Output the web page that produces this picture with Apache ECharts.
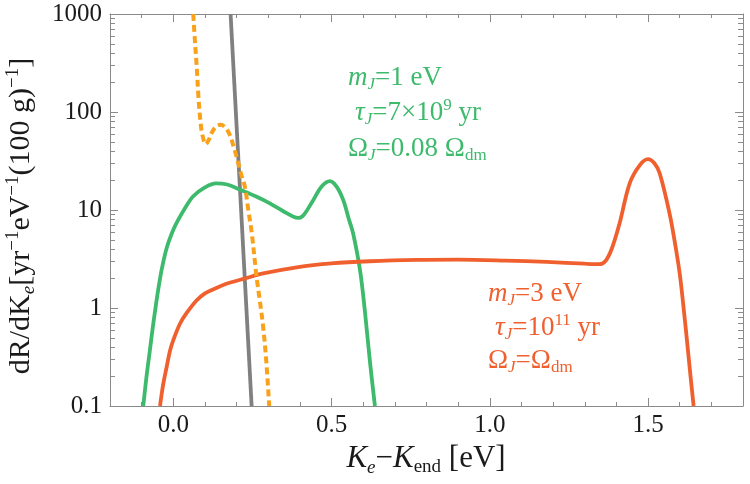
<!DOCTYPE html>
<html>
<head>
<meta charset="utf-8">
<script src="https://cdn.jsdelivr.net/npm/echarts@6/dist/echarts.min.js"></script>
<style>
  html, body { margin: 0; padding: 0; background: #fff; }
  #chart { width: 750px; height: 484px; }
</style>
</head>
<body>
<div id="chart"></div>
<script>
  // [K_e - K_end (eV), dR/dK_e]
  const grayCurve = [[0.181, 1000], [0.2475, 0.1]];
  const greenCurve = [
    [-0.095, 0.1], [-0.085, 0.195], [-0.075, 0.35], [-0.065, 0.63], [-0.055, 1.07],
    [-0.045, 1.74], [-0.035, 2.63], [-0.02, 4.2], [0.0, 6.3], [0.015, 7.9],
    [0.035, 10.2], [0.063, 13.8], [0.1, 17], [0.135, 18.7], [0.17, 18.2],
    [0.21, 16.2], [0.26, 13.8], [0.305, 11.7], [0.35, 9.6], [0.378, 8.6],
    [0.395, 8.3], [0.412, 8.9], [0.442, 12.6], [0.468, 17.3], [0.495, 19.7],
    [0.516, 17.3], [0.537, 12.6], [0.555, 8], [0.568, 5.8], [0.59, 2.43],
    [0.605, 0.95], [0.621, 0.29], [0.637, 0.1]
  ];
  const redCurve = [
    [-0.042, 0.1], [-0.032, 0.166], [-0.021, 0.25], [-0.01, 0.37], [0.0, 0.47],
    [0.021, 0.69], [0.04, 0.87], [0.074, 1.2], [0.1, 1.41], [0.12, 1.52],
    [0.15, 1.68], [0.18, 1.82], [0.226, 2.0], [0.28, 2.24], [0.39, 2.6],
    [0.5, 2.85], [0.62, 3.0], [0.77, 3.1], [0.9, 3.12], [1.05, 3.05],
    [1.18, 2.95], [1.3, 2.83], [1.345, 2.8], [1.365, 3.0], [1.385, 4.0],
    [1.41, 7.3], [1.442, 18.7], [1.474, 28.7], [1.5, 33], [1.52, 30],
    [1.537, 23.6], [1.568, 9.2], [1.585, 4.6], [1.6, 2.25], [1.611, 1.1],
    [1.622, 0.5], [1.633, 0.22], [1.644, 0.1]
  ];
  const dottedCurve = [
    [0.063, 1000], [0.068, 550], [0.074, 290], [0.079, 150], [0.085, 85],
    [0.092, 58], [0.103, 47], [0.112, 52], [0.121, 61], [0.135, 71],
    [0.15, 74], [0.165, 69], [0.179, 58], [0.19, 45], [0.2, 35],
    [0.213, 24], [0.226, 17.3], [0.237, 10], [0.248, 5.8], [0.263, 2.08],
    [0.274, 1.15], [0.284, 0.64], [0.294, 0.28], [0.303, 0.1]
  ];

  const yDecades = [0.1, 1, 10, 100];
  const yMinorMults = [2, 3, 4, 5, 6, 7, 8, 9];

  const serif = "'Liberation Serif', 'Times New Roman', serif";
  const frameColor = '#8a8a8a';
  const textColor = '#1a1a1a';
  const green = '#3dba6c';
  const red = '#f0602e';
  const orange = '#f9a11b';
  const gray = '#808080';

  function rich(color, size) {
    const small = Math.round(size * 0.62);
    const lh = Math.round(size * 1.15);
    return {
      n: { fontFamily: serif, fontSize: size, fill: color, lineHeight: lh },
      i: { fontFamily: serif, fontSize: size, fontStyle: 'italic', fill: color, lineHeight: lh },
      sub: { fontFamily: serif, fontSize: small, fill: color, lineHeight: lh, verticalAlign: 'bottom' },
      subi: { fontFamily: serif, fontSize: small, fontStyle: 'italic', fill: color, lineHeight: lh, verticalAlign: 'bottom' },
      sup: { fontFamily: serif, fontSize: small, fill: color, lineHeight: lh, verticalAlign: 'top' }
    };
  }

  function note(x, y, text, color) {
    return {
      type: 'text', x: x, y: y, silent: true,
      style: { text: text, fill: color, rich: rich(color, 27), align: 'left', verticalAlign: 'middle' }
    };
  }

  let chart = echarts.init(document.getElementById('chart'));

  const xAxisBase = {
    type: 'value', min: -0.2, max: 1.8, splitNumber: 4,
    axisLine: { show: true, onZero: false, lineStyle: { color: frameColor, width: 1 } },
    axisTick: { show: true, inside: true, length: 8, lineStyle: { color: frameColor } },
    minorTick: { show: true, splitNumber: 5, length: 4, lineStyle: { color: frameColor } },
    splitLine: { show: false }
  };
  const yAxisBase = {
    type: 'log', logBase: 10, min: 0.1, max: 1000,
    axisLine: { show: true, onZero: false, lineStyle: { color: frameColor, width: 1 } },
    axisTick: { show: true, inside: true, length: 8, lineStyle: { color: frameColor } },
    splitLine: { show: false }
  };

  let option = {
    animation: false,
    backgroundColor: '#fff',
    textStyle: { fontFamily: serif },
    grid: { left: 110, right: 7, top: 14, bottom: 78 },
    xAxis: [
      Object.assign({}, xAxisBase, {
        position: 'bottom',
        axisLabel: {
          margin: 7, fontFamily: serif, fontSize: 25, color: textColor,
          showMinLabel: false, showMaxLabel: false,
          formatter: v => v.toFixed(1)
        }
      }),
      Object.assign({}, xAxisBase, { position: 'top', axisLabel: { show: false } })
    ],
    yAxis: [
      Object.assign({}, yAxisBase, {
        position: 'left',
        axisLabel: {
          margin: 8, fontFamily: serif, fontSize: 25, color: textColor,
          formatter: v => (v < 1 ? v.toFixed(1) : v.toFixed(0))
        }
      }),
      Object.assign({}, yAxisBase, { position: 'right', axisLabel: { show: false } })
    ],
    graphic: [
      note(348, 78, '{i|m}{subi|J}{n|=1 eV}', green),
      note(355, 113, '{i|τ}{subi|J}{n|=7×10}{sup|9}{n| yr}', green),
      note(348, 149, '{n|Ω}{subi|J}{n|=0.08 Ω}{sub|dm}', green),
      note(488, 294, '{i|m}{subi|J}{n|=3 eV}', red),
      note(495, 328, '{i|τ}{subi|J}{n|=10}{sup|11}{n| yr}', red),
      note(488, 361, '{n|Ω}{subi|J}{n|=Ω}{sub|dm}', red),
      {
        type: 'text', x: 426, y: 459, silent: true,
        style: {
          text: '{i|K}{subi|e}{n|−}{i|K}{sub|end}{n| [eV]}', fill: textColor,
          rich: rich(textColor, 31), align: 'center', verticalAlign: 'middle'
        }
      },
      {
        type: 'text', x: 21, y: 216, rotation: Math.PI / 2, silent: true,
        style: {
          text: '{n|dR/dK}{subi|e}{n|[yr}{sup|−1}{n|eV}{sup|−1}{n|(100 g)}{sup|−1}{n|]}',
          fill: textColor, rich: rich(textColor, 30), align: 'center', verticalAlign: 'middle'
        }
      }
    ],
    series: [
      {
        name: 'gray', type: 'line', data: grayCurve, showSymbol: false,
        lineStyle: { color: gray, width: 3.8 }, z: 2
      },
      {
        name: 'mJ=1eV', type: 'line', data: greenCurve, showSymbol: false, smooth: 0.35,
        lineStyle: { color: green, width: 3.8 }, z: 3
      },
      {
        name: 'mJ=3eV', type: 'line', data: redCurve, showSymbol: false, smooth: 0.35,
        lineStyle: { color: red, width: 3.8 }, z: 4
      },
      {
        name: 'dotted', type: 'line', data: dottedCurve, showSymbol: false, smooth: 0.35,
        lineStyle: { color: orange, width: 4, type: [7, 4] }, z: 5
      },
      {
        // log-axis minor ticks on left and right frame
        type: 'custom', silent: true, clip: false, z: 10,
        data: [[0, 1]],
        renderItem: function (params, api) {
          const cs = params.coordSys;
          const kids = [];
          yDecades.forEach(d => yMinorMults.forEach(m => {
            const y = Math.round(api.coord([0, d * m])[1]) + 0.5;
            kids.push({ type: 'line', shape: { x1: cs.x, y1: y, x2: cs.x + 5, y2: y },
              style: { stroke: frameColor, lineWidth: 1 } });
            kids.push({ type: 'line', shape: { x1: cs.x + cs.width - 5, y1: y, x2: cs.x + cs.width, y2: y },
              style: { stroke: frameColor, lineWidth: 1 } });
          }));
          return { type: 'group', children: kids };
        }
      }
    ]
  };

  option && chart.setOption(option);
</script>
</body>
</html>
